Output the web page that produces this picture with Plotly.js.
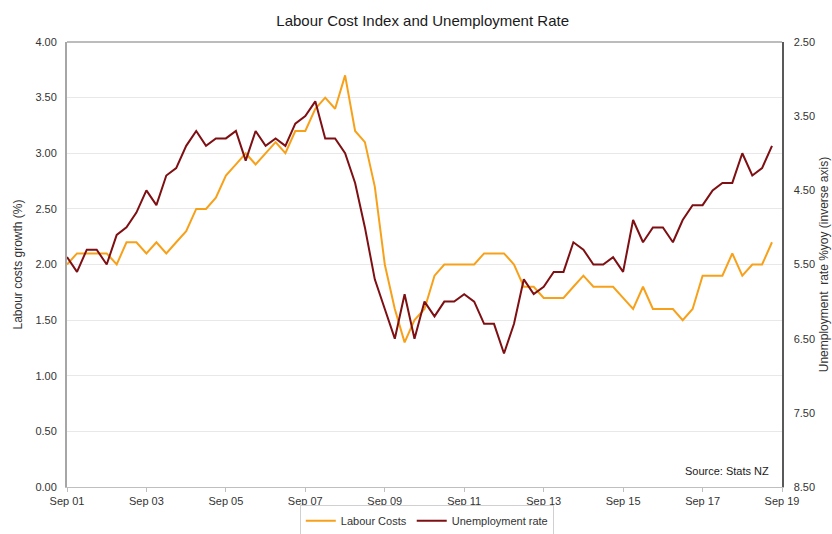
<!DOCTYPE html>
<html>
<head>
<meta charset="utf-8">
<script src="https://cdn.plot.ly/plotly-3.0.1.min.js"></script>
<style>
  html, body { margin: 0; padding: 0; background: #ffffff; }
  #chart { width: 832px; height: 534px; }
</style>
</head>
<body>
<div id="chart"></div>
<script>
// Quarter ends, Sep 2001 .. Jun 2019
const startYear = 2001;
const quarterMonths = ["09", "12", "03", "06"];
const quarterDays = { "03": "31", "06": "30", "09": "30", "12": "31" };

// Labour Cost Index growth, % (left axis)
const labourCosts = [
  2.0, 2.1, 2.1, 2.1, 2.1, 2.0, 2.2, 2.2, 2.1, 2.2, 2.1, 2.2, 2.3, 2.5, 2.5, 2.6, 2.8, 2.9,
  3.0, 2.9, 3.0, 3.1, 3.0, 3.2, 3.2, 3.4, 3.5, 3.4, 3.7, 3.2, 3.1, 2.7, 2.0, 1.6, 1.3, 1.5, 1.6,
  1.9, 2.0, 2.0, 2.0, 2.0, 2.1, 2.1, 2.1, 2.0, 1.8, 1.8, 1.7, 1.7, 1.7, 1.8, 1.9, 1.8,
  1.8, 1.8, 1.7, 1.6, 1.8, 1.6, 1.6, 1.6, 1.5, 1.6, 1.9, 1.9, 1.9, 2.1, 1.9, 2.0, 2.0, 2.2
];

// Unemployment rate, % (right axis, inverted)
const unemploymentRate = [
  5.4, 5.6, 5.3, 5.3, 5.5, 5.1, 5.0, 4.8, 4.5, 4.7, 4.3, 4.2, 3.9, 3.7, 3.9, 3.8, 3.8, 3.7,
  4.1, 3.7, 3.9, 3.8, 3.9, 3.6, 3.5, 3.3, 3.8, 3.8, 4.0, 4.4, 5.0, 5.7, 6.1, 6.5, 5.9, 6.5, 6.0,
  6.2, 6.0, 6.0, 5.9, 6.0, 6.3, 6.3, 6.7, 6.3, 5.7, 5.9, 5.8, 5.6, 5.6, 5.2, 5.3, 5.5,
  5.5, 5.4, 5.6, 4.9, 5.2, 5.0, 5.0, 5.2, 4.9, 4.7, 4.7, 4.5, 4.4, 4.4, 4.0, 4.3, 4.2, 3.9
];

const xTickVals = ["2001-09-30", "2003-09-30", "2005-09-30", "2007-09-30", "2009-09-30",
                   "2011-09-30", "2013-09-30", "2015-09-30", "2017-09-30", "2019-09-30"];
const xTickText = ["Sep 01", "Sep 03", "Sep 05", "Sep 07", "Sep 09",
                   "Sep 11", "Sep 13", "Sep 15", "Sep 17", "Sep 19"];

// Build quarter-end dates for each observation (Sep, Dec, Mar, Jun, ...)
const quarters = [];
for (let i = 0; i < labourCosts.length; i++) {
  const m = quarterMonths[i % 4];
  const y = startYear + Math.floor((i + 2) / 4);
  quarters.push(y + "-" + m + "-" + quarterDays[m]);
}

const FONT = "Liberation Sans, Arial, sans-serif";

const traces = [
  {
    x: quarters, y: labourCosts, name: "Labour Costs", type: "scatter", mode: "lines",
    line: { color: "#F7A11A", width: 2 }, yaxis: "y"
  },
  {
    x: quarters, y: unemploymentRate, name: "Unemployment rate", type: "scatter", mode: "lines",
    line: { color: "#7E0F12", width: 2 }, yaxis: "y2"
  }
];

const layout = {
  width: 832, height: 534,
  paper_bgcolor: "#ffffff", plot_bgcolor: "#ffffff",
  margin: { l: 67, r: 50, t: 42, b: 47, autoexpand: false },
  font: { family: FONT, size: 11, color: "#333333" },
  title: {
    text: "Labour Cost Index and Unemployment Rate",
    font: { family: FONT, size: 15, color: "#1a1a1a" },
    x: 0.508, xanchor: "center", y: 0.962, yanchor: "middle"
  },
  showlegend: true,
  legend: {
    orientation: "h", xref: "container", yref: "container",
    x: 0.513, xanchor: "center", y: 0.054, yanchor: "top",
    bordercolor: "#d0d0d0", borderwidth: 1, bgcolor: "#ffffff",
    font: { family: FONT, size: 11, color: "#333333" },
    itemwidth: 30, tracegroupgap: 0
  },
  xaxis: {
    type: "date",
    range: ["2001-09-30", "2019-09-30"],
    tickvals: xTickVals, ticktext: xTickText,
    ticks: "outside", ticklen: 4, tickcolor: "#bfbfbf",
    showline: true, linecolor: "#bfbfbf", linewidth: 1,
    showgrid: false, zeroline: false, automargin: false,
    tickfont: { family: FONT, size: 11, color: "#333333" }
  },
  yaxis: {
    range: [0, 4], tick0: 0, dtick: 0.5, tickformat: ".2f",
    showline: true, linecolor: "#a6a6a6", linewidth: 2, mirror: false,
    showgrid: true, gridcolor: "#e8e8e8", gridwidth: 1, zeroline: false,
    ticks: "", ticklabelstandoff: 6, automargin: false,
    tickfont: { family: FONT, size: 11, color: "#333333" },
    title: { text: "Labour costs growth (%)", font: { family: FONT, size: 12, color: "#333333" }, standoff: 10 }
  },
  yaxis2: {
    overlaying: "y", side: "right",
    range: [8.5, 2.5], tick0: 2.5, dtick: 1, tickformat: ".2f",
    showline: true, linecolor: "#595959", linewidth: 1.5,
    showgrid: false, zeroline: false, automargin: false,
    ticks: "", ticklabelstandoff: 8,
    tickfont: { family: FONT, size: 11, color: "#333333" },
    title: { text: "Unemployment  rate %yoy (inverse axis)", font: { family: FONT, size: 12, color: "#333333" }, standoff: 5 }
  },
  shapes: [
    { type: "line", xref: "paper", yref: "paper", x0: 0, x1: 1, y0: 1, y1: 1,
      line: { color: "#a6a6a6", width: 1.5 } }
  ],
  annotations: [
    { text: "Source: Stats NZ", xref: "paper", yref: "paper", x: 0.985, y: 0.036,
      xanchor: "right", yanchor: "middle", showarrow: false,
      font: { family: FONT, size: 11, color: "#1a1a1a" } }
  ]
};

Plotly.newPlot("chart", traces, layout, { displayModeBar: false, staticPlot: true });
</script>
</body>
</html>
